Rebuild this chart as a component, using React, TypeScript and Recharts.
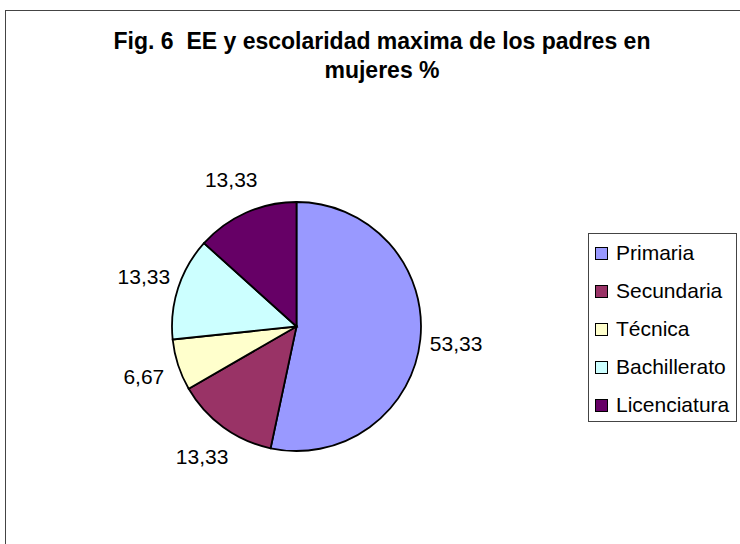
import { PieChart, Pie, Cell, Legend } from 'recharts';

const categories = ['Primaria', 'Secundaria', 'Técnica', 'Bachillerato', 'Licenciatura'];
const values = [53.33, 13.33, 6.67, 13.33, 13.33];
const colors = ['#9999FF', '#993366', '#FFFFCC', '#CCFFFF', '#660066'];
const titleLines = ['Fig. 6  EE y escolaridad maxima de los padres en', 'mujeres %'];

const data = categories.map((name, i) => ({ name, value: values[i] }));

const FONT = '"Liberation Sans", Arial, sans-serif';
const RAD = Math.PI / 180;

const formatValue = (v: number) => v.toFixed(2).replace('.', ',');

// labels sit outside the pie, centred on the slice's mid angle
const renderLabel = (props: any) => {
  const { cx, cy, midAngle, outerRadius, value } = props;
  const r = outerRadius + 36;
  const x = cx + Math.cos(-midAngle * RAD) * r;
  const y = cy + Math.sin(-midAngle * RAD) * r;
  return (
    <text
      x={x}
      y={y}
      textAnchor="middle"
      dominantBaseline="central"
      fill="#000"
      style={{ fontFamily: FONT, fontSize: 21 }}
    >
      {formatValue(value)}
    </text>
  );
};

const LegendBox = () => (
  <div style={{
    border: '1.5px solid #444',
    background: '#fff',
    width: 149,
    height: 189,
    boxSizing: 'border-box',
    fontFamily: FONT,
    fontSize: 21,
    color: '#000'
  }}>
    {categories.map((name, i) => (
      <div key={name} style={{ height: 38, display: 'flex', alignItems: 'center', paddingLeft: 6 }}>
        <span style={{
          display: 'inline-block',
          width: 11,
          height: 11,
          background: colors[i],
          border: '1.5px solid #000',
          marginRight: 8
        }} />
        <span>{name}</span>
      </div>
    ))}
  </div>
);

export default function App() {
  return (
    <div style={{
      position: 'absolute',
      left: 0,
      top: 0,
      width: 740,
      height: 544,
      overflow: 'hidden',
      background: '#fff'
    }}>
      <div style={{
        position: 'absolute',
        left: 5,
        top: 10,
        width: 800,
        height: 600,
        border: '1.5px solid #444'
      }} />
      <div style={{
        position: 'absolute',
        left: 82,
        top: 27,
        width: 600,
        textAlign: 'center',
        fontFamily: FONT,
        fontWeight: 'bold',
        fontSize: 23,
        lineHeight: '29px',
        color: '#000'
      }}>
        {titleLines.map((t) => <div key={t} style={{ whiteSpace: 'pre' }}>{t}</div>)}
      </div>
      <div style={{ position: 'absolute', left: 0, top: 0 }}>
        <PieChart width={740} height={544} margin={{ top: 0, right: 0, bottom: 0, left: 0 }}>
          <Pie
            data={data}
            dataKey="value"
            nameKey="name"
            cx={296.5}
            cy={326.5}
            outerRadius={124.5}
            startAngle={90}
            endAngle={-270}
            stroke="#000"
            strokeWidth={1.8}
            label={renderLabel}
            labelLine={false}
            isAnimationActive={false}
          >
            {data.map((d, i) => (
              <Cell key={d.name} fill={colors[i]} />
            ))}
          </Pie>
          <Legend
            layout="vertical"
            align="center"
            verticalAlign="middle"
            content={<LegendBox />}
            wrapperStyle={{ left: 588, top: 233, width: 150, height: 190 }}
          />
        </PieChart>
      </div>
    </div>
  );
}
